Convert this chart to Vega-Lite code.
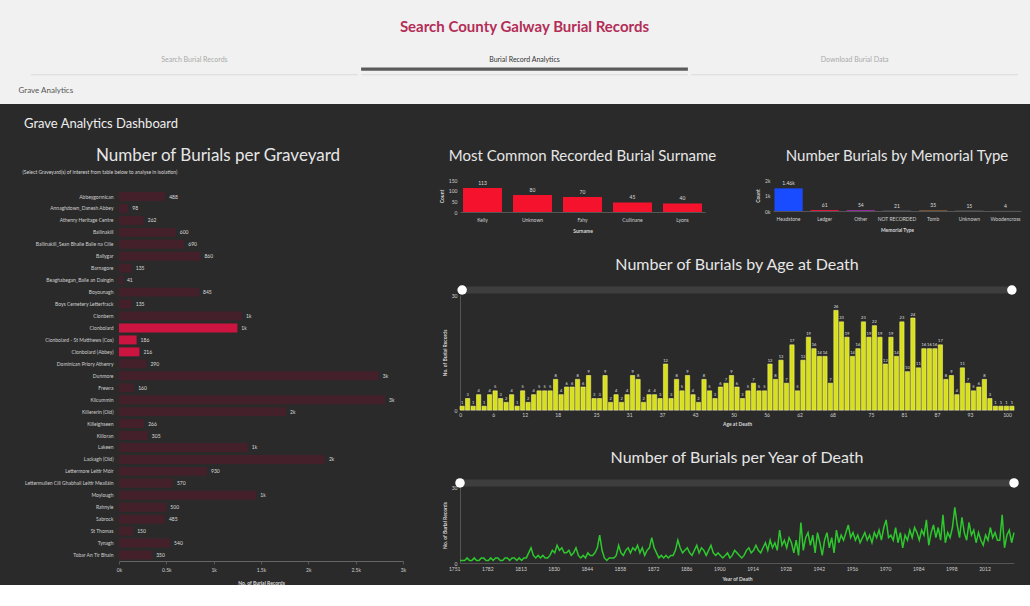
{
  "$schema": "https://vega.github.io/schema/vega-lite/v6.json",
  "background": "#2a2a2a",
  "padding": 0,
  "config": {
    "font": "Lato",
    "view": {"stroke": null},
    "axis": {"labelColor": "#cfcfcf", "titleColor": "#d8d8d8", "labelFontSize": 5, "titleFontSize": 5, "labelFont": "Lato", "titleFont": "Lato", "domainColor": "#555555", "tickColor": "#555555", "grid": false},
    "title": {"color": "#e6e6e6", "fontWeight": "normal", "font": "Lato"}
  },
  "datasets": {
    "tabs": [
      {"tab": "Search Burial Records", "active": 0},
      {"tab": "Burial Record Analytics", "active": 1},
      {"tab": "Download Burial Data", "active": 0}
    ],
    "graveyards": [
      {"graveyard": "Abbeygormican", "records": 488},
      {"graveyard": "Annaghdown_Danesh Abbey", "records": 98},
      {"graveyard": "Athenry Heritage Centre", "records": 262},
      {"graveyard": "Ballinakill", "records": 600},
      {"graveyard": "Ballinakill_Sean Bhaile Baile na Cille", "records": 690},
      {"graveyard": "Ballygar", "records": 860},
      {"graveyard": "Barnagore", "records": 135},
      {"graveyard": "Beaghabegan_Baile an Daingin", "records": 41},
      {"graveyard": "Boyounagh", "records": 845},
      {"graveyard": "Boys Cemetery Letterfrack", "records": 135},
      {"graveyard": "Clonbern", "records": 1300},
      {"graveyard": "Clonbolard", "records": 1250},
      {"graveyard": "Clonbolard - St Matthews (Cox)", "records": 186},
      {"graveyard": "Clonbolard (Abbey)", "records": 216},
      {"graveyard": "Dominican Priory Athenry", "records": 290},
      {"graveyard": "Dunmore", "records": 2745},
      {"graveyard": "Frewra", "records": 160},
      {"graveyard": "Kilcummin", "records": 2810},
      {"graveyard": "Killererin (Old)", "records": 1765},
      {"graveyard": "Killeighseen", "records": 266},
      {"graveyard": "Killoran", "records": 305},
      {"graveyard": "Lakeen", "records": 1360},
      {"graveyard": "Lackagh (Old)", "records": 2175},
      {"graveyard": "Lettermore Leitir Móir", "records": 930},
      {"graveyard": "Lettermullen Cill Ghabhail Leitir Mealláin", "records": 570},
      {"graveyard": "Moylough", "records": 1450},
      {"graveyard": "Rahnyle", "records": 500},
      {"graveyard": "Sabrock", "records": 485},
      {"graveyard": "St Thomas", "records": 150},
      {"graveyard": "Tynagh", "records": 540},
      {"graveyard": "Tobar An Tir Bhain", "records": 350}
    ],
    "surnames": [
      {"surname": "Kelly", "count": 113},
      {"surname": "Unknown", "count": 80},
      {"surname": "Fahy", "count": 70},
      {"surname": "Cullinane", "count": 45},
      {"surname": "Lyons", "count": 40}
    ],
    "memorials": [
      {"type": "Headstone", "count": 1460},
      {"type": "Ledger", "count": 61},
      {"type": "Other", "count": 54},
      {"type": "NOT RECORDED", "count": 21},
      {"type": "Tomb", "count": 35},
      {"type": "Unknown", "count": 15},
      {"type": "Woodencross", "count": 4}
    ],
    "ages": [
      {"age": 0, "burials": 1}, {"age": 1, "burials": 3}, {"age": 2, "burials": 1}, {"age": 3, "burials": 4}, {"age": 4, "burials": 1},
      {"age": 5, "burials": 4}, {"age": 6, "burials": 5}, {"age": 7, "burials": 3}, {"age": 8, "burials": 2}, {"age": 9, "burials": 4},
      {"age": 10, "burials": 1}, {"age": 11, "burials": 5}, {"age": 12, "burials": 2}, {"age": 13, "burials": 4}, {"age": 14, "burials": 5},
      {"age": 15, "burials": 5}, {"age": 16, "burials": 5}, {"age": 17, "burials": 8}, {"age": 18, "burials": 4}, {"age": 19, "burials": 6},
      {"age": 20, "burials": 6}, {"age": 21, "burials": 8}, {"age": 22, "burials": 6}, {"age": 23, "burials": 9}, {"age": 24, "burials": 3},
      {"age": 25, "burials": 3}, {"age": 26, "burials": 9}, {"age": 27, "burials": 2}, {"age": 28, "burials": 4}, {"age": 29, "burials": 2},
      {"age": 30, "burials": 4}, {"age": 31, "burials": 9}, {"age": 32, "burials": 8}, {"age": 33, "burials": 2}, {"age": 34, "burials": 4},
      {"age": 35, "burials": 4}, {"age": 36, "burials": 3}, {"age": 37, "burials": 12}, {"age": 38, "burials": 3}, {"age": 39, "burials": 8},
      {"age": 40, "burials": 5}, {"age": 41, "burials": 9}, {"age": 42, "burials": 4}, {"age": 43, "burials": 2}, {"age": 44, "burials": 8},
      {"age": 45, "burials": 5}, {"age": 46, "burials": 3}, {"age": 47, "burials": 6}, {"age": 48, "burials": 7}, {"age": 49, "burials": 9},
      {"age": 50, "burials": 6}, {"age": 51, "burials": 3}, {"age": 52, "burials": 5}, {"age": 53, "burials": 7}, {"age": 54, "burials": 5},
      {"age": 55, "burials": 5}, {"age": 56, "burials": 12}, {"age": 57, "burials": 8}, {"age": 58, "burials": 13}, {"age": 59, "burials": 7},
      {"age": 60, "burials": 17}, {"age": 61, "burials": 5}, {"age": 62, "burials": 13}, {"age": 63, "burials": 19}, {"age": 64, "burials": 16},
      {"age": 65, "burials": 14}, {"age": 66, "burials": 14}, {"age": 67, "burials": 7}, {"age": 68, "burials": 26}, {"age": 69, "burials": 23},
      {"age": 70, "burials": 19}, {"age": 71, "burials": 14}, {"age": 72, "burials": 16}, {"age": 73, "burials": 23}, {"age": 74, "burials": 19},
      {"age": 75, "burials": 22}, {"age": 76, "burials": 19}, {"age": 77, "burials": 12}, {"age": 78, "burials": 19}, {"age": 79, "burials": 14},
      {"age": 80, "burials": 23}, {"age": 81, "burials": 10}, {"age": 82, "burials": 24}, {"age": 83, "burials": 11}, {"age": 84, "burials": 16},
      {"age": 85, "burials": 16}, {"age": 86, "burials": 16}, {"age": 87, "burials": 17}, {"age": 88, "burials": 8}, {"age": 89, "burials": 9},
      {"age": 90, "burials": 4}, {"age": 91, "burials": 11}, {"age": 92, "burials": 7}, {"age": 93, "burials": 5}, {"age": 94, "burials": 6},
      {"age": 95, "burials": 8}, {"age": 96, "burials": 3}, {"age": 97, "burials": 1}, {"age": 98, "burials": 1}, {"age": 99, "burials": 1},
      {"age": 100, "burials": 1}
    ],
    "years": [
      {"year": 1751, "burials": 1}, {"year": 1753, "burials": 1}, {"year": 1756, "burials": 1}, {"year": 1758, "burials": 2}, {"year": 1760, "burials": 1},
      {"year": 1763, "burials": 1}, {"year": 1765, "burials": 2}, {"year": 1767, "burials": 1}, {"year": 1770, "burials": 1}, {"year": 1772, "burials": 2},
      {"year": 1774, "burials": 2}, {"year": 1776, "burials": 1}, {"year": 1778, "burials": 1}, {"year": 1780, "burials": 2}, {"year": 1782, "burials": 1},
      {"year": 1784, "burials": 2}, {"year": 1786, "burials": 2}, {"year": 1789, "burials": 1}, {"year": 1791, "burials": 1}, {"year": 1793, "burials": 2},
      {"year": 1795, "burials": 2}, {"year": 1798, "burials": 1}, {"year": 1800, "burials": 2}, {"year": 1802, "burials": 2}, {"year": 1804, "burials": 1},
      {"year": 1807, "burials": 2}, {"year": 1809, "burials": 1}, {"year": 1811, "burials": 2}, {"year": 1813, "burials": 2}, {"year": 1814, "burials": 4},
      {"year": 1815, "burials": 6}, {"year": 1817, "burials": 3}, {"year": 1818, "burials": 2}, {"year": 1819, "burials": 3}, {"year": 1820, "burials": 2},
      {"year": 1822, "burials": 3}, {"year": 1823, "burials": 2}, {"year": 1824, "burials": 2}, {"year": 1825, "burials": 3}, {"year": 1826, "burials": 5},
      {"year": 1827, "burials": 4}, {"year": 1829, "burials": 7}, {"year": 1830, "burials": 5}, {"year": 1831, "burials": 6}, {"year": 1832, "burials": 4},
      {"year": 1833, "burials": 4}, {"year": 1834, "burials": 5}, {"year": 1835, "burials": 3}, {"year": 1836, "burials": 4}, {"year": 1837, "burials": 6},
      {"year": 1838, "burials": 3}, {"year": 1839, "burials": 2}, {"year": 1840, "burials": 3}, {"year": 1841, "burials": 2}, {"year": 1842, "burials": 4},
      {"year": 1843, "burials": 3}, {"year": 1844, "burials": 3}, {"year": 1845, "burials": 4}, {"year": 1846, "burials": 6}, {"year": 1847, "burials": 11},
      {"year": 1848, "burials": 5}, {"year": 1849, "burials": 2}, {"year": 1850, "burials": 1}, {"year": 1851, "burials": 2}, {"year": 1852, "burials": 2},
      {"year": 1853, "burials": 2}, {"year": 1854, "burials": 3}, {"year": 1855, "burials": 7}, {"year": 1856, "burials": 4}, {"year": 1857, "burials": 3},
      {"year": 1858, "burials": 5}, {"year": 1859, "burials": 6}, {"year": 1860, "burials": 4}, {"year": 1861, "burials": 6}, {"year": 1862, "burials": 5},
      {"year": 1863, "burials": 7}, {"year": 1864, "burials": 4}, {"year": 1865, "burials": 6}, {"year": 1866, "burials": 3}, {"year": 1867, "burials": 5},
      {"year": 1868, "burials": 6}, {"year": 1869, "burials": 10}, {"year": 1870, "burials": 6}, {"year": 1871, "burials": 4}, {"year": 1872, "burials": 2},
      {"year": 1873, "burials": 3}, {"year": 1874, "burials": 2}, {"year": 1875, "burials": 3}, {"year": 1876, "burials": 2}, {"year": 1877, "burials": 3},
      {"year": 1878, "burials": 3}, {"year": 1879, "burials": 5}, {"year": 1880, "burials": 9}, {"year": 1881, "burials": 6}, {"year": 1882, "burials": 4},
      {"year": 1883, "burials": 5}, {"year": 1884, "burials": 6}, {"year": 1885, "burials": 4}, {"year": 1886, "burials": 3}, {"year": 1887, "burials": 5},
      {"year": 1888, "burials": 7}, {"year": 1889, "burials": 4}, {"year": 1890, "burials": 6}, {"year": 1891, "burials": 5}, {"year": 1892, "burials": 3},
      {"year": 1893, "burials": 5}, {"year": 1894, "burials": 7}, {"year": 1895, "burials": 4}, {"year": 1896, "burials": 3}, {"year": 1897, "burials": 4},
      {"year": 1898, "burials": 3}, {"year": 1899, "burials": 2}, {"year": 1900, "burials": 3}, {"year": 1901, "burials": 4}, {"year": 1902, "burials": 2},
      {"year": 1903, "burials": 3}, {"year": 1904, "burials": 5}, {"year": 1905, "burials": 4}, {"year": 1906, "burials": 3}, {"year": 1907, "burials": 2},
      {"year": 1908, "burials": 3}, {"year": 1909, "burials": 5}, {"year": 1910, "burials": 6}, {"year": 1911, "burials": 4}, {"year": 1912, "burials": 5},
      {"year": 1913, "burials": 7}, {"year": 1914, "burials": 5}, {"year": 1915, "burials": 4}, {"year": 1916, "burials": 6}, {"year": 1917, "burials": 8},
      {"year": 1918, "burials": 5}, {"year": 1919, "burials": 9}, {"year": 1920, "burials": 6}, {"year": 1921, "burials": 8}, {"year": 1922, "burials": 5},
      {"year": 1923, "burials": 13}, {"year": 1924, "burials": 7}, {"year": 1925, "burials": 9}, {"year": 1926, "burials": 6}, {"year": 1927, "burials": 10},
      {"year": 1928, "burials": 8}, {"year": 1929, "burials": 4}, {"year": 1930, "burials": 9}, {"year": 1931, "burials": 3}, {"year": 1932, "burials": 16},
      {"year": 1933, "burials": 5}, {"year": 1934, "burials": 10}, {"year": 1935, "burials": 12}, {"year": 1936, "burials": 7}, {"year": 1937, "burials": 11},
      {"year": 1938, "burials": 4}, {"year": 1939, "burials": 12}, {"year": 1940, "burials": 8}, {"year": 1941, "burials": 3}, {"year": 1942, "burials": 9},
      {"year": 1943, "burials": 12}, {"year": 1944, "burials": 6}, {"year": 1945, "burials": 10}, {"year": 1946, "burials": 4}, {"year": 1947, "burials": 13},
      {"year": 1948, "burials": 8}, {"year": 1949, "burials": 11}, {"year": 1950, "burials": 9}, {"year": 1951, "burials": 12}, {"year": 1952, "burials": 15},
      {"year": 1953, "burials": 10}, {"year": 1954, "burials": 12}, {"year": 1955, "burials": 9}, {"year": 1956, "burials": 11}, {"year": 1957, "burials": 8},
      {"year": 1958, "burials": 10}, {"year": 1959, "burials": 12}, {"year": 1960, "burials": 9}, {"year": 1961, "burials": 11}, {"year": 1962, "burials": 8},
      {"year": 1963, "burials": 12}, {"year": 1964, "burials": 10}, {"year": 1965, "burials": 13}, {"year": 1966, "burials": 9}, {"year": 1967, "burials": 14},
      {"year": 1968, "burials": 17}, {"year": 1969, "burials": 10}, {"year": 1970, "burials": 11}, {"year": 1971, "burials": 9}, {"year": 1972, "burials": 14},
      {"year": 1973, "burials": 8}, {"year": 1974, "burials": 12}, {"year": 1975, "burials": 6}, {"year": 1976, "burials": 11}, {"year": 1977, "burials": 9},
      {"year": 1978, "burials": 13}, {"year": 1979, "burials": 10}, {"year": 1980, "burials": 14}, {"year": 1981, "burials": 12}, {"year": 1982, "burials": 9},
      {"year": 1983, "burials": 13}, {"year": 1984, "burials": 11}, {"year": 1985, "burials": 17}, {"year": 1986, "burials": 7}, {"year": 1987, "burials": 12},
      {"year": 1988, "burials": 15}, {"year": 1989, "burials": 10}, {"year": 1990, "burials": 14}, {"year": 1991, "burials": 9}, {"year": 1992, "burials": 19},
      {"year": 1993, "burials": 8}, {"year": 1994, "burials": 12}, {"year": 1995, "burials": 10}, {"year": 1996, "burials": 14}, {"year": 1997, "burials": 22},
      {"year": 1998, "burials": 15}, {"year": 1999, "burials": 10}, {"year": 2000, "burials": 18}, {"year": 2001, "burials": 12}, {"year": 2002, "burials": 9},
      {"year": 2003, "burials": 16}, {"year": 2004, "burials": 11}, {"year": 2005, "burials": 13}, {"year": 2006, "burials": 8}, {"year": 2007, "burials": 12},
      {"year": 2008, "burials": 9}, {"year": 2009, "burials": 7}, {"year": 2010, "burials": 11}, {"year": 2011, "burials": 9}, {"year": 2012, "burials": 14},
      {"year": 2013, "burials": 10}, {"year": 2014, "burials": 12}, {"year": 2015, "burials": 9}, {"year": 2016, "burials": 9}, {"year": 2017, "burials": 19},
      {"year": 2018, "burials": 6}, {"year": 2019, "burials": 11}, {"year": 2020, "burials": 13}, {"year": 2021, "burials": 8}, {"year": 2022, "burials": 12}
    ]
  },
  "spacing": 14,
  "vconcat": [
    {
      "width": 911,
      "height": 104,
      "resolve": {"scale": {"x": "independent"}, "axis": {"x": "independent"}},
      "layer": [
        {
          "data": {"values": [{}]},
          "mark": {"type": "rect", "color": "#f1f1f1"},
          "encoding": {
            "x": {"datum": -119, "type": "quantitative", "scale": {"domain": [0, 911]}, "axis": null},
            "x2": {"datum": 911},
            "y": {"datum": 0, "type": "quantitative", "scale": {"domain": [0, 100]}, "axis": null},
            "y2": {"datum": 100}
          }
        },
        {
          "data": {"name": "tabs"},
          "encoding": {
            "x": {"field": "tab", "type": "nominal", "sort": null,
              "scale": {"range": [-88, 899], "paddingInner": 0.01, "paddingOuter": 0},
              "axis": {"labels": false, "ticks": false, "domain": false, "zindex": 2, "title": "Grave Analytics", "titleAnchor": "start", "titleAlign": "left", "titleX": -101, "titleY": -14, "titleBaseline": "middle", "titleFontSize": 8, "titleColor": "#555555", "titleFontWeight": "normal"}}
          },
          "layer": [
            {
              "mark": {"type": "bar", "color": "#d9d9d9"},
              "encoding": {
                "y": {"datum": 27.6, "type": "quantitative", "axis": null},
                "y2": {"datum": 28.6}
              }
            },
            {
              "transform": [{"filter": "datum.active == 1"}],
              "mark": {"type": "bar", "color": "#5a5a5a"},
              "encoding": {
                "y": {"datum": 32, "type": "quantitative", "axis": null},
                "y2": {"datum": 35}
              }
            },
            {
              "mark": {"type": "text", "fontSize": 7},
              "encoding": {
                "y": {"datum": 42, "type": "quantitative", "axis": null},
                "text": {"field": "tab"},
                "color": {"condition": {"test": "datum.active == 1", "value": "#333333"}, "value": "#aaaaaa"}
              }
            },
            {
              "transform": [{"filter": "datum.active == 1"}],
              "mark": {"type": "text", "fontSize": 15, "fontWeight": "bold", "color": "#b32d57"},
              "encoding": {
                "y": {"datum": 74, "type": "quantitative", "axis": null},
                "text": {"value": "Search County Galway Burial Records"}
              }
            }
          ]
        }
      ]
    },
    {
      "title": {"text": "Grave Analytics Dashboard", "anchor": "start", "fontSize": 13, "color": "#eeeeee", "offset": 16, "dx": 24},
      "spacing": 33,
      "hconcat": [
        {
          "width": 284,
          "height": 381,
          "title": {"text": "Number of Burials per Graveyard", "fontSize": 17, "offset": 4, "dx": -43},
          "data": {"name": "graveyards"},
          "encoding": {
            "y": {"field": "graveyard", "type": "nominal", "sort": null,
              "scale": {"paddingInner": 0.25, "paddingOuter": 0.566, "align": 0.89},
              "axis": {"title": "(Select Graveyard(s) of interest from table below to analyse in isolation)", "titleAngle": 0, "titleAlign": "left", "titleX": -97, "titleY": -6, "titleBaseline": "bottom", "titleFontWeight": "normal", "titleFontSize": 5, "labelFontSize": 5, "minExtent": 119, "ticks": false, "domain": false, "labelPadding": 6}},
            "x": {"field": "records", "type": "quantitative", "scale": {"domain": [0, 3000]},
              "axis": {"values": [0, 500, 1000, 1500, 2000, 2500, 3000], "format": "~s", "title": "No. of Burial Records", "labelFlush": false, "tickSize": 3, "labelPadding": 3, "titlePadding": 8, "domainColor": "#666666"}}
          },
          "layer": [
            {
              "mark": {"type": "bar"},
              "encoding": {
                "color": {"condition": {"test": "indexof(datum.graveyard, 'Clonbolard') >= 0", "value": "#cc1440"}, "value": "#43202a"}
              }
            },
            {
              "transform": [{"filter": "datum.records < 1000"}],
              "mark": {"type": "text", "align": "left", "dx": 4, "fontSize": 5, "color": "#dddddd"},
              "encoding": {"text": {"field": "records", "type": "quantitative", "format": "d"}}
            },
            {
              "transform": [{"filter": "datum.records >= 1000"}],
              "mark": {"type": "text", "align": "left", "dx": 4, "fontSize": 5, "color": "#dddddd"},
              "encoding": {"text": {"field": "records", "type": "quantitative", "format": ".1s"}}
            }
          ]
        },
        {
          "spacing": 24,
          "vconcat": [
            {
              "spacing": 38,
              "hconcat": [
                {
                  "width": 245,
                  "height": 32,
                  "title": {"text": "Most Common Recorded Burial Surname", "fontSize": 15, "offset": 14},
                  "data": {"name": "surnames"},
                  "encoding": {
                    "x": {"field": "surname", "type": "nominal", "sort": null, "scale": {"paddingInner": 0.22, "paddingOuter": 0.06},
                      "axis": {"labelAngle": 0, "title": "Surname", "ticks": false, "labelPadding": 5, "titlePadding": 6}},
                    "y": {"field": "count", "type": "quantitative", "scale": {"domain": [0, 150]},
                      "axis": {"values": [0, 50, 100, 150], "title": "Count", "ticks": false, "domain": false, "labelPadding": 3, "titlePadding": 4}}
                  },
                  "layer": [
                    {"mark": {"type": "bar", "color": "#f5122c"}},
                    {"mark": {"type": "text", "dy": -2, "baseline": "bottom", "fontSize": 5, "color": "#dddddd"},
                      "encoding": {"text": {"field": "count", "type": "quantitative"}}}
                  ]
                },
                {
                  "width": 248,
                  "height": 31,
                  "title": {"text": "Number Burials by Memorial Type", "fontSize": 15, "offset": 14},
                  "data": {"name": "memorials"},
                  "encoding": {
                    "x": {"field": "type", "type": "nominal", "sort": null, "scale": {"paddingInner": 0.22, "paddingOuter": 0.04},
                      "axis": {"labelAngle": 0, "title": "Memorial Type", "ticks": false, "labelPadding": 5, "titlePadding": 6}},
                    "y": {"field": "count", "type": "quantitative", "scale": {"domain": [0, 2000]},
                      "axis": {"values": [0, 1000, 2000], "format": "~s", "title": "Count", "ticks": false, "domain": false, "labelPadding": 3, "titlePadding": 4}}
                  },
                  "layer": [
                    {"mark": {"type": "bar"},
                      "encoding": {"color": {"field": "type", "type": "nominal", "sort": null, "legend": null,
                        "scale": {"domain": ["Headstone", "Ledger", "Other", "NOT RECORDED", "Tomb", "Unknown", "Woodencross"],
                          "range": ["#1a4cff", "#d8183c", "#a62ab4", "#6e7890", "#b8763c", "#8a8a8a", "#9a9a9a"]}}}},
                    {"mark": {"type": "text", "dy": -2, "baseline": "bottom", "fontSize": 5, "color": "#dddddd"},
                      "encoding": {"text": {"field": "count", "type": "quantitative", "format": ".3~s"}}}
                  ]
                }
              ]
            },
            {
              "width": 554,
              "height": 115,
              "title": {"text": "Number of Burials by Age at Death", "fontSize": 16, "offset": 12},
              "layer": [
                {
                  "data": {"values": [{}]},
                  "mark": {"type": "rule", "color": "#3e3e3e", "strokeWidth": 7, "strokeCap": "round"},
                  "encoding": {
                    "x": {"datum": 0, "type": "ordinal"},
                    "x2": {"datum": 100},
                    "y": {"datum": 31.3, "type": "quantitative"}
                  }
                },
                {
                  "data": {"name": "ages"},
                  "mark": {"type": "bar", "color": "#d8e01c", "stroke": "#f0f07c", "strokeWidth": 0.6},
                  "encoding": {
                    "x": {"field": "age", "type": "ordinal", "scale": {"paddingInner": 0.22, "paddingOuter": 0},
                      "axis": {"values": [0, 6, 12, 18, 25, 31, 37, 43, 50, 56, 62, 68, 75, 81, 87, 93, 100], "labelAngle": 0, "ticks": false, "title": "Age at Death", "labelPadding": 4, "titlePadding": 4}},
                    "y": {"field": "burials", "type": "quantitative", "scale": {"domain": [0, 30], "nice": false},
                      "axis": {"values": [0, 5, 10, 15, 20, 25, 30], "title": "No. of Burial Records", "ticks": false, "labelPadding": 3, "titlePadding": 4}}
                  }
                },
                {
                  "data": {"name": "ages"},
                  "mark": {"type": "text", "dy": -1.5, "baseline": "bottom", "fontSize": 4, "color": "#e0e0e0"},
                  "encoding": {
                    "x": {"field": "age", "type": "ordinal"},
                    "y": {"field": "burials", "type": "quantitative"},
                    "text": {"field": "burials", "type": "quantitative"}
                  }
                },
                {
                  "data": {"values": [{"age": 0}, {"age": 100}]},
                  "mark": {"type": "circle", "color": "#ffffff", "opacity": 1, "size": 90},
                  "encoding": {
                    "x": {"field": "age", "type": "ordinal"},
                    "y": {"datum": 31.3, "type": "quantitative"}
                  }
                }
              ]
            },
            {
              "width": 554,
              "height": 76,
              "title": {"text": "Number of Burials per Year of Death", "fontSize": 16, "offset": 12},
              "layer": [
                {
                  "data": {"values": [{}]},
                  "mark": {"type": "rule", "color": "#3e3e3e", "strokeWidth": 7, "strokeCap": "round"},
                  "encoding": {
                    "x": {"datum": 1751, "type": "ordinal"},
                    "x2": {"datum": 2022},
                    "y": {"datum": 31.6, "type": "quantitative"}
                  }
                },
                {
                  "data": {"name": "years"},
                  "mark": {"type": "line", "color": "#2ec82e", "strokeWidth": 1.5},
                  "encoding": {
                    "x": {"field": "year", "type": "ordinal", "scale": {"type": "point", "padding": 0},
                      "axis": {"values": [1751, 1782, 1813, 1830, 1844, 1858, 1872, 1886, 1900, 1914, 1928, 1942, 1956, 1970, 1984, 1998, 2012], "labelAngle": 0, "ticks": false, "title": "Year of Death", "labelPadding": 5, "titlePadding": 5}},
                    "y": {"field": "burials", "type": "quantitative", "scale": {"domain": [0, 30], "nice": false},
                      "axis": {"values": [0, 10, 20, 30], "title": "No. of Burial Records", "ticks": false, "labelPadding": 3, "titlePadding": 4}}
                  }
                },
                {
                  "data": {"values": [{"year": 1751}, {"year": 2022}]},
                  "mark": {"type": "circle", "color": "#ffffff", "opacity": 1, "size": 90},
                  "encoding": {
                    "x": {"field": "year", "type": "ordinal"},
                    "y": {"datum": 31.6, "type": "quantitative"}
                  }
                }
              ]
            }
          ]
        }
      ]
    }
  ]
}
